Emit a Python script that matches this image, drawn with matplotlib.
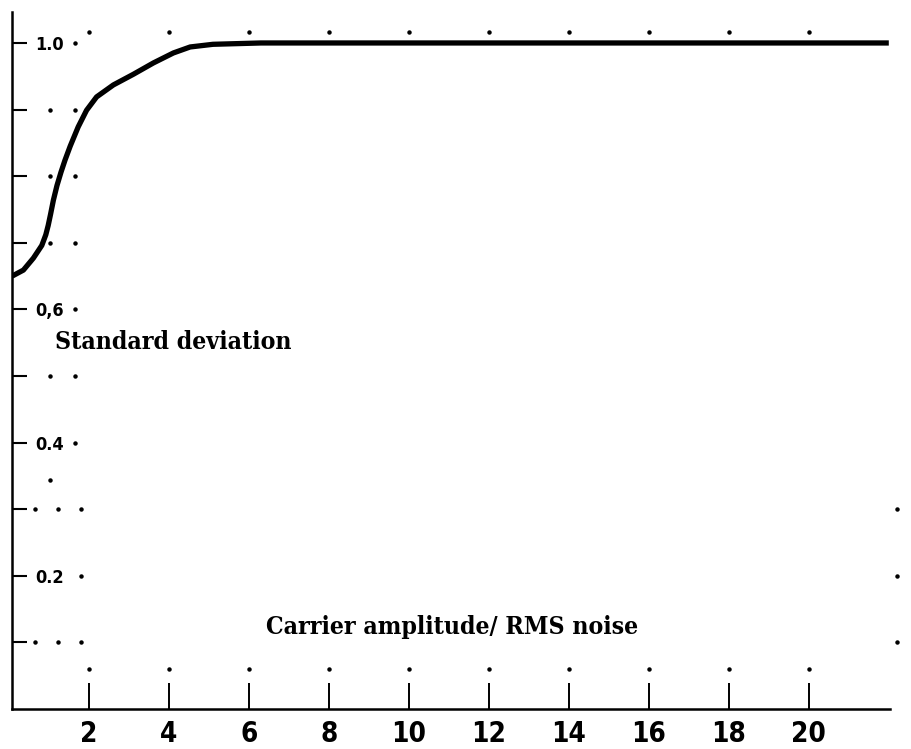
import matplotlib
matplotlib.use("Agg")
import matplotlib.pyplot as plt
import numpy as np

# curve
carrier = [0.08, 0.36, 0.61, 0.82, 0.92, 0.98, 1.04, 1.11, 1.20, 1.30, 1.40, 1.53,
           1.73, 1.94, 2.19, 2.61, 3.11, 3.61, 4.11, 4.53, 5.1, 6.3, 22.0]
std_dev = [0.650, 0.659, 0.677, 0.696, 0.712, 0.726, 0.743, 0.764, 0.786, 0.806,
           0.824, 0.845, 0.874, 0.899, 0.919, 0.937, 0.953, 0.970, 0.985, 0.994,
           0.998, 1.0, 1.0]

x_ticks = [2, 4, 6, 8, 10, 12, 14, 16, 18, 20]
y_ticks = [0.1, 0.2, 0.3, 0.4, 0.5, 0.6, 0.7, 0.8, 0.9, 1.0]
y_labels = ["", "0.2", "", "0.4", "", "0,6", "", "", "", "1.0"]

# stray plotter dots visible on the scan
dot_x = [1.03, 1.65, 1.03, 1.65, 1.03, 1.65, 1.03, 1.65, 1.65, 1.65, 1.65,
         0.65, 1.22, 1.8, 0.65, 1.22, 1.8, 1.8, 1.03, 22.2, 22.2, 22.2]
dot_y = [0.9, 0.9, 0.8, 0.8, 0.7, 0.7, 0.5, 0.5, 1.0, 0.6, 0.4,
         0.3, 0.3, 0.3, 0.1, 0.1, 0.1, 0.2, 0.344, 0.3, 0.2, 0.1]
top_dot_level = 1.017
bottom_dot_level = 0.06

serif = dict(family="DejaVu Serif", fontstretch="condensed", weight="bold")
sans = dict(family="DejaVu Sans", fontstretch="condensed", weight="bold")

fig = plt.figure(figsize=(9.12, 7.49), dpi=100)
ax = fig.add_axes([12 / 912, 40 / 749, 878 / 912, 697 / 749])

ax.plot(carrier, std_dev, color="black", linewidth=3.8, solid_capstyle="butt")

ax.plot(dot_x, dot_y, "o", color="black", markersize=2.2, clip_on=False)
ax.plot(x_ticks, [top_dot_level] * len(x_ticks), "o", color="black", markersize=2.2, clip_on=False)
ax.plot(x_ticks, [bottom_dot_level] * len(x_ticks), "o", color="black", markersize=2.2, clip_on=False)

ax.set_xlim(0.075, 22.03)
ax.set_ylim(0, 1.0465)

for side in ["top", "right"]:
    ax.spines[side].set_visible(False)
ax.spines["left"].set_linewidth(1.8)
ax.spines["bottom"].set_linewidth(1.8)

ax.set_xticks(x_ticks)
ax.set_xticklabels([str(v) for v in x_ticks], fontsize=20, **sans)
ax.tick_params(axis="x", direction="in", length=19, width=1.4, pad=8)

ax.set_yticks(y_ticks)
ax.set_yticklabels(y_labels, fontsize=13, **sans)
ax.tick_params(axis="y", direction="in", length=11, width=1.5, pad=-17)
for lbl in ax.get_yticklabels():
    lbl.set_horizontalalignment("left")

ax.text(1.15, 0.551, "Standard deviation", fontsize=17.8, va="center", ha="left", **serif)
ax.text(11.08, 0.123, "Carrier amplitude/ RMS noise", fontsize=17.8, va="center", ha="center", **serif)

fig.savefig("out.png", dpi=100)
